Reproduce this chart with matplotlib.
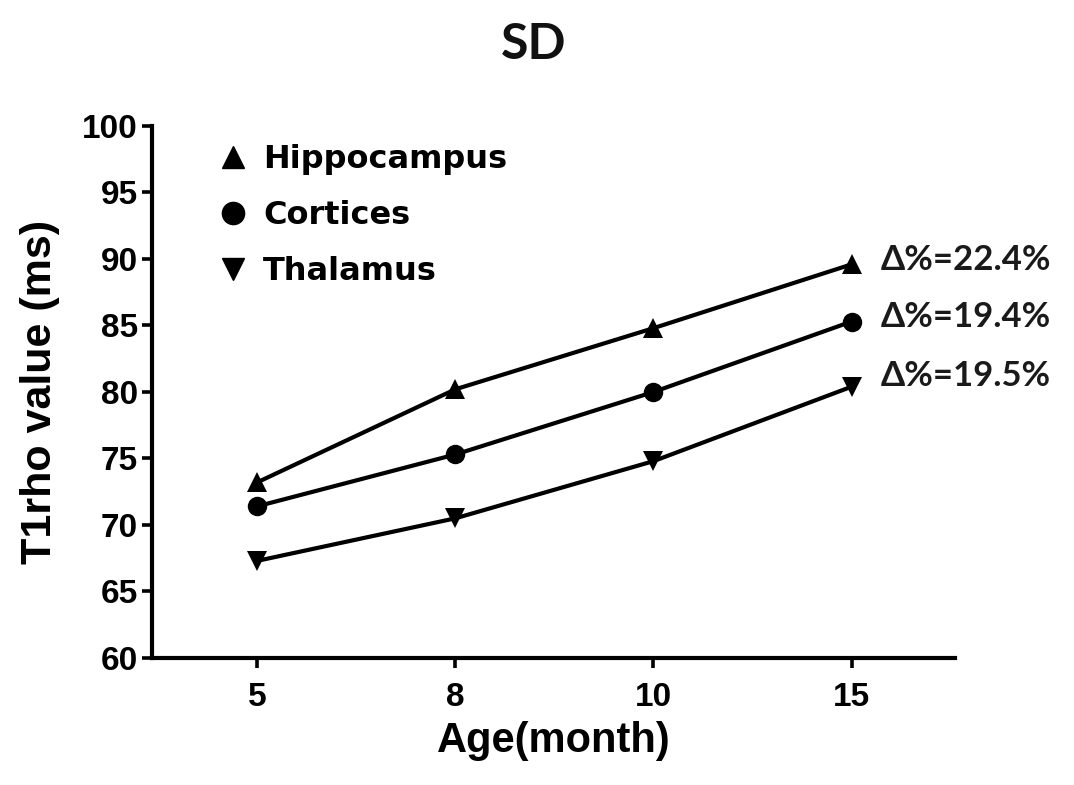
import matplotlib
matplotlib.use("Agg")
import matplotlib.pyplot as plt
from matplotlib.lines import Line2D
import numpy as np

# data
ages = ["5", "8", "10", "15"]
hippocampus = [73.2, 80.2, 84.8, 89.6]
cortices = [71.4, 75.3, 80.0, 85.3]
thalamus = [67.3, 70.5, 74.8, 80.4]
deltas = ["Δ%=22.4%", "Δ%=19.4%", "Δ%=19.5%"]
names = ["Hippocampus", "Cortices", "Thalamus"]
markers = ["^", "o", "v"]

bold_font = ["Liberation Sans", "DejaVu Sans"]
light_font = ["Lato", "Open Sans", "DejaVu Sans"]

fig = plt.figure(figsize=(10.74, 7.85), dpi=100)
ax = fig.add_axes([0.1415, 0.1618, 0.7475, 0.6777])

x = np.arange(len(ages))
series = [hippocampus, cortices, thalamus]
for vals, m in zip(series, markers):
    ax.plot(x, vals, color="black", lw=3.0, marker=m, markersize=14,
            markeredgewidth=0, clip_on=False)

# delta labels next to the last points
y_offsets = [3, 3, 8]
for vals, txt, dy in zip(series, deltas, y_offsets):
    ax.annotate(txt, xy=(x[-1], vals[-1]), xytext=(21, dy),
                textcoords="offset points", ha="left", va="center",
                fontsize=25, fontweight="bold", family=light_font,
                color="#1a1a1a")

ax.set_xlim(-0.53, 3.52)
ax.set_ylim(60, 100)
ax.set_xticks(x)
ax.set_xticklabels(ages)
ax.set_yticks(np.arange(60, 101, 5))

for s in ["top", "right"]:
    ax.spines[s].set_visible(False)
for s in ["left", "bottom"]:
    ax.spines[s].set_linewidth(3.0)

ax.tick_params(axis="both", direction="out", length=7, width=2.6,
               labelsize=24, pad=3)
for lab in ax.get_xticklabels() + ax.get_yticklabels():
    lab.set_family(bold_font)
    lab.set_fontweight("bold")
ax.tick_params(axis="x", pad=10)

ax.set_xlabel("Age(month)", fontsize=30, fontweight="bold", family=bold_font,
              labelpad=6)
ax.set_ylabel("T1rho value (ms)", fontsize=31, fontweight="bold",
              family=bold_font, labelpad=16)

fig.text(0.497, 0.943, "SD", ha="center", va="center", fontsize=36,
         fontweight="bold", family=light_font, color="#111111")

handles = [Line2D([], [], ls="none", marker=m, color="black", markersize=16)
           for m in markers]
leg = ax.legend(handles, names, loc="upper left", frameon=False,
                bbox_to_anchor=(0.045, 1.02), handletextpad=0.45,
                labelspacing=0.78, handlelength=1.0,
                prop={"family": ["DejaVu Sans"], "weight": "bold",
                      "size": 23})

fig.savefig("out.png", dpi=100, facecolor="white")
